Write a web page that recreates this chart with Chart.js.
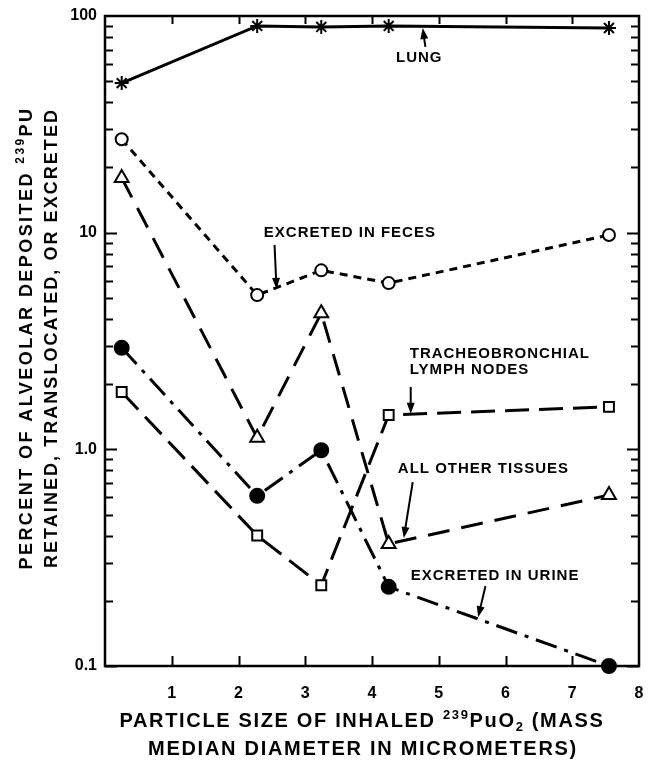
<!DOCTYPE html>
<html>
<head>
<meta charset="utf-8">
<script src="https://cdn.jsdelivr.net/npm/chart.js@4.4.1/dist/chart.umd.min.js"></script>
<style>
  html, body { margin: 0; padding: 0; background: #fff; }
  canvas { display: block; }
</style>
</head>
<body>
<canvas id="chart" width="649" height="762"></canvas>
<script>
// particle size (MMD, micrometers) for each exposure group
const sizes = [0.25, 2.28, 3.24, 4.25, 7.55];

// percent of alveolar deposited 239Pu
const lung = [49, 90, 89, 90, 88];
const feces = [27, 5.15, 6.7, 5.85, 9.75];
const otherTissues = [17.9, 1.13, 4.25, 0.366, 0.615];
const urine = [2.94, 0.61, 0.99, 0.232, 0.1];
const lymphNodes = [1.84, 0.40, 0.236, 1.44, 1.57];

const xTicks = [1, 2, 3, 4, 5, 6, 7, 8];
const yLabels = [0.1, 1, 10, 100];

// labels + arrows, in data coordinates
const notes = [
  { lines: ['LUNG'], x: 4.36, y: 61.4, from: [4.80, 72], to: [4.76, 88] },
  { lines: ['EXCRETED IN FECES'], x: 2.38, y: 9.55, from: [2.54, 8.77], to: [2.57, 5.5] },
  { lines: ['TRACHEOBRONCHIAL', 'LYMPH NODES'], x: 4.565, y: 2.64, from: [4.58, 1.94], to: [4.58, 1.46] },
  { lines: ['ALL OTHER TISSUES'], x: 4.387, y: 0.778, from: [4.61, 0.706], to: [4.476, 0.39] },
  { lines: ['EXCRETED IN URINE'], x: 4.58, y: 0.249, from: [5.70, 0.234], to: [5.59, 0.168] }
];

const FONT = '"Liberation Sans", Arial, sans-serif';

function pts(vals) {
  return vals.map((v, i) => ({ x: sizes[i], y: v }));
}

function drawRich(ctx, parts, cx, base, size, targetW) {
  let natural = 0, chars = 0;
  parts.forEach(p => {
    const s = p.k === 'n' ? size : Math.round(size * 0.65);
    ctx.font = 'bold ' + s + 'px ' + FONT;
    ctx.letterSpacing = '0px';
    p.w = ctx.measureText(p.t).width;
    p.s = s;
    natural += p.w;
    chars += p.t.length;
  });
  const sp = targetW ? (targetW - natural) / chars : 0;
  let x = cx - (natural + sp * chars) / 2;
  ctx.textAlign = 'left';
  ctx.textBaseline = 'alphabetic';
  parts.forEach(p => {
    ctx.font = 'bold ' + p.s + 'px ' + FONT;
    ctx.letterSpacing = sp + 'px';
    let y = base;
    if (p.k === 'sup') y = base - size * 0.42;
    if (p.k === 'sub') y = base + size * 0.22;
    ctx.fillText(p.t, x, y);
    x += p.w + sp * p.t.length;
  });
  ctx.letterSpacing = '0px';
}

function arrow(ctx, x1, y1, x2, y2) {
  const a = Math.atan2(y2 - y1, x2 - x1);
  const L = 11, W = 4;
  ctx.beginPath();
  ctx.moveTo(x1, y1);
  ctx.lineTo(x2 - L * 0.8 * Math.cos(a), y2 - L * 0.8 * Math.sin(a));
  ctx.stroke();
  ctx.beginPath();
  ctx.moveTo(x2, y2);
  ctx.lineTo(x2 - L * Math.cos(a) + W * Math.sin(a), y2 - L * Math.sin(a) - W * Math.cos(a));
  ctx.lineTo(x2 - L * Math.cos(a) - W * Math.sin(a), y2 - L * Math.sin(a) + W * Math.cos(a));
  ctx.closePath();
  ctx.fill();
}

const framePlugin = {
  id: 'frame',
  beforeDatasetsDraw(chart) {
    const ctx = chart.ctx, a = chart.chartArea;
    const xs = chart.scales.x, ys = chart.scales.y;
    ctx.save();
    ctx.strokeStyle = '#000';
    ctx.lineWidth = 2.5;
    ctx.strokeRect(a.left, a.top, a.right - a.left, a.bottom - a.top);
    ctx.lineWidth = 2;
    ctx.beginPath();
    for (let d = -1; d <= 1; d++) {
      for (let k = 1; k <= 9; k++) {
        const v = k * Math.pow(10, d);
        const y = Math.round(ys.getPixelForValue(v)) + 0.5;
        const len = k === 1 ? 12 : 8;
        ctx.moveTo(a.left, y); ctx.lineTo(a.left + len, y);
        ctx.moveTo(a.right, y); ctx.lineTo(a.right - len, y);
      }
    }
    xTicks.slice(0, -1).forEach(t => {
      const x = Math.round(xs.getPixelForValue(t)) + 0.5;
      ctx.moveTo(x, a.top); ctx.lineTo(x, a.top + 8);
      ctx.moveTo(x, a.bottom); ctx.lineTo(x, a.bottom - 10);
    });
    ctx.stroke();
    ctx.restore();
  },
  afterDraw(chart) {
    const ctx = chart.ctx;
    const xs = chart.scales.x, ys = chart.scales.y;
    ctx.save();
    ctx.fillStyle = '#000';
    ctx.strokeStyle = '#000';
    ctx.lineWidth = 2;
    notes.forEach(n => {
      const x = xs.getPixelForValue(n.x), y = ys.getPixelForValue(n.y);
      ctx.font = 'bold 15px ' + FONT;
      ctx.letterSpacing = '1px';
      ctx.textAlign = 'left';
      ctx.textBaseline = 'alphabetic';
      n.lines.forEach((t, i) => ctx.fillText(t, x, y + i * 16));
      ctx.letterSpacing = '0px';
      arrow(ctx, xs.getPixelForValue(n.from[0]), ys.getPixelForValue(n.from[1]),
        xs.getPixelForValue(n.to[0]), ys.getPixelForValue(n.to[1]));
    });

    // x axis title
    drawRich(ctx, [
      { t: 'PARTICLE SIZE OF INHALED ', k: 'n' }, { t: '239', k: 'sup' },
      { t: 'PuO', k: 'n' }, { t: '2', k: 'sub' }, { t: ' (MASS', k: 'n' }
    ], 362, 727, 20, 485);
    drawRich(ctx, [{ t: 'MEDIAN DIAMETER IN MICROMETERS)', k: 'n' }], 363, 755, 20, 430);

    // y axis title
    ctx.translate(0, 338);
    ctx.rotate(-Math.PI / 2);
    drawRich(ctx, [
      { t: 'PERCENT OF ALVEOLAR DEPOSITED ', k: 'n' }, { t: '239', k: 'sup' }, { t: 'PU', k: 'n' }
    ], 0, 25 + 7, 18, 463);
    drawRich(ctx, [{ t: 'RETAINED, TRANSLOCATED, OR EXCRETED', k: 'n' }], 0, 50 + 7, 18, 460);
    ctx.restore();
  }
};

const base = { showLine: true, borderColor: '#000', borderWidth: 3, pointBorderColor: '#000', pointBorderWidth: 2, clip: false };

new Chart(document.getElementById('chart'), {
  type: 'scatter',
  data: {
    datasets: [
      { ...base, label: 'Lung', data: pts(lung), pointStyle: 'star', pointRadius: 7, pointBorderWidth: 2, backgroundColor: '#000' },
      { ...base, label: 'Excreted in feces', data: pts(feces), borderDash: [8, 6], pointStyle: 'circle', pointRadius: 6, pointBackgroundColor: '#fff' },
      { ...base, label: 'All other tissues', data: pts(otherTissues), borderDash: [22, 12], pointStyle: 'triangle', pointRadius: 8, pointBackgroundColor: '#fff' },
      { ...base, label: 'Excreted in urine', data: pts(urine), borderDash: [22, 8, 4, 8], pointStyle: 'circle', pointRadius: 7, pointBackgroundColor: '#000' },
      { ...base, label: 'Tracheobronchial lymph nodes', data: pts(lymphNodes), borderDash: [24, 10], pointStyle: 'rect', pointRadius: 7, pointBackgroundColor: '#fff' }
    ]
  },
  options: {
    responsive: false,
    animation: false,
    layout: { padding: { top: 16, right: 6, left: 0, bottom: 0 } },
    plugins: { legend: { display: false }, tooltip: { enabled: false } },
    scales: {
      x: {
        type: 'linear', min: 0, max: 8,
        grid: { display: false }, border: { display: false },
        ticks: {
          stepSize: 1, color: '#000', padding: 10,
          font: { family: FONT, size: 16, weight: 'bold' },
          callback: v => xTicks.includes(v) ? String(v) : ''
        },
        afterFit: s => { s.height = 96; s.paddingRight = 0; s.paddingLeft = 0; }
      },
      y: {
        type: 'logarithmic', min: 0.1, max: 100,
        grid: { display: false }, border: { display: false },
        ticks: {
          autoSkip: false, color: '#000', padding: 0,
          font: { family: FONT, size: 16, weight: 'bold' },
          callback: v => yLabels.includes(v) ? (v === 1 ? '1.0' : String(v)) : ''
        },
        afterFit: s => { s.width = 105; s.paddingTop = 0; s.paddingBottom = 0; }
      }
    }
  },
  plugins: [framePlugin]
});
</script>
</body>
</html>
